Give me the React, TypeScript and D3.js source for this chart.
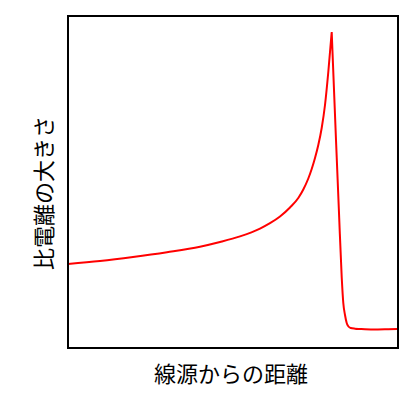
import React from "react";
import * as d3 from "d3";

const distance = [0, 32, 65, 99, 132, 152, 172, 192, 202, 212, 222, 230.3, 235.3, 240.3, 243.7, 247, 250.3, 253.7, 257, 260.3, 263.7, 268, 271, 273.7, 275.3, 277, 278.7, 280.5, 282.7, 287, 292, 305, 318, 329];
const ionization = [84, 87, 91, 95.8, 101.3, 106, 111.6, 119.4, 124.8, 131.5, 140.5, 150, 158.5, 169.5, 179, 190, 203, 220, 243, 276, 316, 208, 135, 71, 45, 33, 25, 21.5, 20, 19.3, 19, 18.5, 18.7, 19];

const xLabel = "線源からの距離";
const yLabel = "比電離の大きさ";

const W = 418;
const H = 397;
const left = 68;
const right = 398;
const top = 16;
const bottom = 348;

export default function App() {
  const x = d3.scaleLinear().domain([0, 330]).range([left, right]);
  const y = d3.scaleLinear().domain([0, 332]).range([bottom, top]);
  const pts = distance.map((d, i) => [d, ionization[i]] as [number, number]);
  const peak = d3.maxIndex(ionization);
  const line = d3
    .line<[number, number]>()
    .x((d) => x(d[0]))
    .y((d) => y(d[1]))
    .curve(d3.curveMonotoneX);
  const d1 = line(pts.slice(0, peak + 1)) || "";
  const d2 = (line(pts.slice(peak)) || "").replace(/^M[^CLM]*/, "");
  const font = "'Noto Sans CJK JP', sans-serif";
  return (
    <svg
      width={W}
      height={H}
      style={{ position: "absolute", left: 0, top: 0, background: "#fff" }}
    >
      <defs>
        <clipPath id="plotclip">
          <rect x={left} y={top} width={right - left} height={bottom - top} />
        </clipPath>
      </defs>
      <path
        d={d1 + d2}
        fill="none"
        stroke="#ff0000"
        strokeWidth={2}
        strokeLinejoin="miter"
        strokeMiterlimit={10}
        clipPath="url(#plotclip)"
      />
      <rect
        x={left}
        y={top}
        width={right - left}
        height={bottom - top}
        fill="none"
        stroke="#000"
        strokeWidth={2}
      />
      <text
        x={(left + right) / 2 - 2}
        y={382}
        textAnchor="middle"
        fontFamily={font}
        fontSize={22}
        fill="#000"
      >
        {xLabel}
      </text>
      <text
        transform={`translate(52, ${(top + bottom) / 2 + 11}) rotate(-90)`}
        textAnchor="middle"
        fontFamily={font}
        fontSize={22}
        fill="#000"
      >
        {yLabel}
      </text>
    </svg>
  );
}
